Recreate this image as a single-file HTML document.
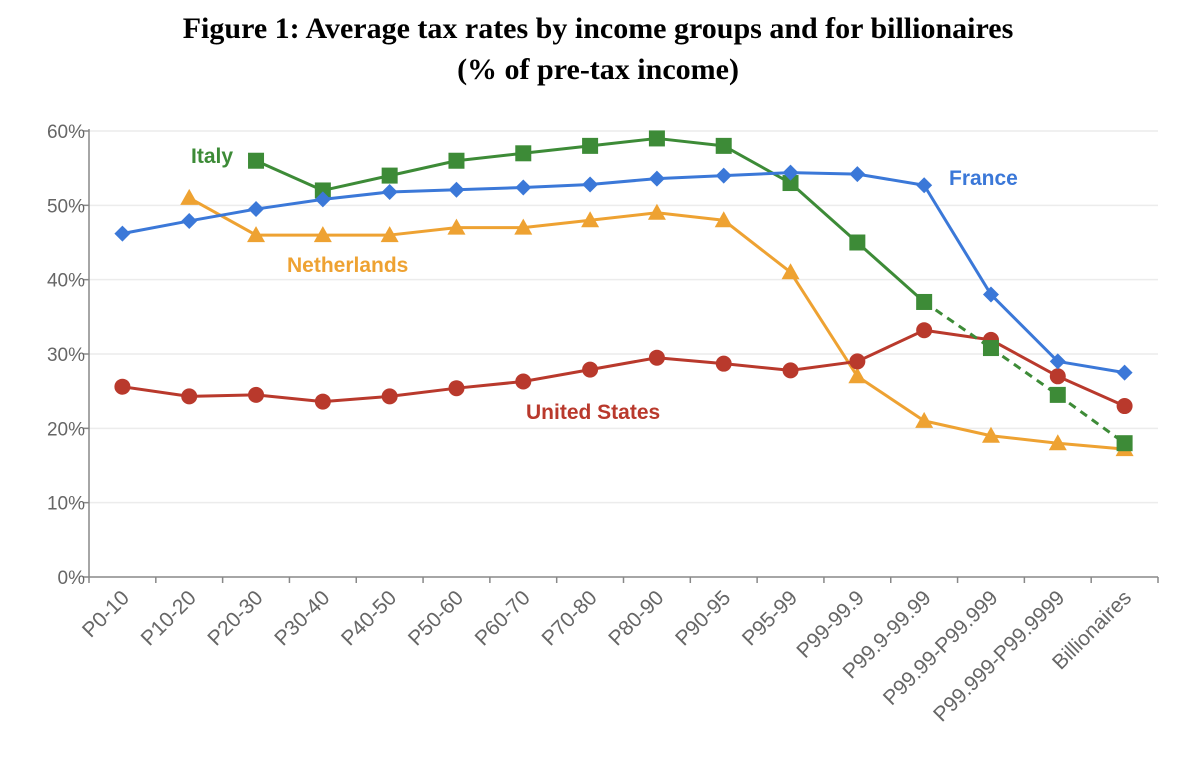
<!DOCTYPE html>
<html><head><meta charset="utf-8"><style>
body{margin:0;background:#fff;width:1199px;height:777px;overflow:hidden}
svg{display:block}
</style></head><body>
<svg id="chart" width="1199" height="777">
<text x="598" y="38" text-anchor="middle" font-family="Liberation Serif, serif" font-weight="bold" font-size="30">Figure 1: Average tax rates by income groups and for billionaires</text>
<text x="598" y="79" text-anchor="middle" font-family="Liberation Serif, serif" font-weight="bold" font-size="30">(% of pre-tax income)</text>
<g id="grid"></g><g id="axes"></g><g id="series"></g>
<text x="191" y="163" fill="#3d8b37" font-family="Liberation Sans, sans-serif" font-weight="bold" font-size="21">Italy</text>
<text x="287" y="272" fill="#eea232" font-family="Liberation Sans, sans-serif" font-weight="bold" font-size="21">Netherlands</text>
<text x="949" y="185" fill="#3b78d8" font-family="Liberation Sans, sans-serif" font-weight="bold" font-size="21">France</text>
<text x="526" y="419" fill="#b9392c" font-family="Liberation Sans, sans-serif" font-weight="bold" font-size="21">United States</text>
</svg>
<script>
const categories=["P0-10","P10-20","P20-30","P30-40","P40-50","P50-60","P60-70","P70-80","P80-90","P90-95","P95-99","P99-99.9","P99.9-99.99","P99.99-P99.999","P99.999-P99.9999","Billionaires"];
const yTicks=[0,10,20,30,40,50,60];
const france=[46.2,47.9,49.5,50.8,51.8,52.1,52.4,52.8,53.6,54,54.4,54.2,52.7,38,29,27.5];
const italy=[null,null,56,52,54,56,57,58,59,58,53,45,37,30.8,24.5,18];
const netherlands=[null,51,46,46,46,47,47,48,49,48,41,27,21,19,18,17.2];
const unitedStates=[25.6,24.3,24.5,23.6,24.3,25.4,26.3,27.9,29.5,28.7,27.8,29,33.2,31.9,27,23];
const NS="http://www.w3.org/2000/svg";
const L=89,R=1158,T=131,B=577,ymax=60;
const bw=(R-L)/categories.length;
const x=i=>L+bw*(i+0.5);
const y=v=>B-(v/ymax)*(B-T);
function mk(tag,attrs,parent){const e=document.createElementNS(NS,tag);for(const k in attrs)e.setAttribute(k,attrs[k]);parent.appendChild(e);return e;}
const grid=document.getElementById('grid'),axes=document.getElementById('axes'),ser=document.getElementById('series');
yTicks.forEach(t=>{
 if(t>0){const g=mk('line',{x1:L,x2:R,y1:y(t),y2:y(t),stroke:'#ececec','stroke-width':1.5},grid);
 
 }
 const tk=mk('line',{x1:L-6,x2:L,y1:y(t),y2:y(t),stroke:'#888','stroke-width':1.5},axes);
 
 
 const tx=mk('text',{x:L-4,y:y(t)+7,'text-anchor':'end',fill:'#666','font-family':'Liberation Sans, sans-serif','font-size':19},axes);
 tx.textContent=t+'%';
 
 
});
const ya=mk('line',{x1:L,x2:L,y1:T-2,y2:B,stroke:'#888','stroke-width':1.5},axes);


const xa=mk('line',{x1:L,x2:R,y1:B,y2:B,stroke:'#888','stroke-width':1.5},axes);


for(let i=0;i<=categories.length;i++){
 const tk=mk('line',{x1:L+bw*i,x2:L+bw*i,y1:B,y2:B+6,stroke:'#888','stroke-width':1.5},axes);
 
 
}
categories.forEach((c,i)=>{
 const tx=mk('text',{x:0,y:0,'text-anchor':'end',fill:'#666','font-family':'Liberation Sans, sans-serif','font-size':21,transform:`translate(${x(i)+8},${B+22}) rotate(-45)`},axes);
 tx.textContent=c;
 
 
});
function drawSeries(name,vals,color,shape,dashFrom){
 for(let i=0;i<vals.length-1;i++){
  if(vals[i]==null||vals[i+1]==null)continue;
  const a={x1:x(i),y1:y(vals[i]),x2:x(i+1),y2:y(vals[i+1]),stroke:color,'stroke-width':3};
  if(dashFrom!=null&&i>=dashFrom)a['stroke-dasharray']='8,6';
  const ln=mk('line',a,ser);
  
  
 }
 vals.forEach((v,i)=>{
  if(v==null)return;
  const cx=x(i),cy=y(v);let m;
  if(shape==='diamond')m=mk('polygon',{points:`${cx},${cy-8} ${cx+8},${cy} ${cx},${cy+8} ${cx-8},${cy}`,fill:color},ser);
  else if(shape==='square')m=mk('rect',{x:cx-8,y:cy-8,width:16,height:16,fill:color},ser);
  else if(shape==='triangle')m=mk('polygon',{points:`${cx},${cy-9} ${cx+9},${cy+7} ${cx-9},${cy+7}`,fill:color},ser);
  else m=mk('circle',{cx:cx,cy:cy,r:8,fill:color},ser);
  
  
 });
}
drawSeries('netherlands',netherlands,'#eea232','triangle');
drawSeries('united-states',unitedStates,'#b9392c','circle');
drawSeries('italy',italy,'#3d8b37','square',12);
drawSeries('france',france,'#3b78d8','diamond');
</script>
</body></html>
